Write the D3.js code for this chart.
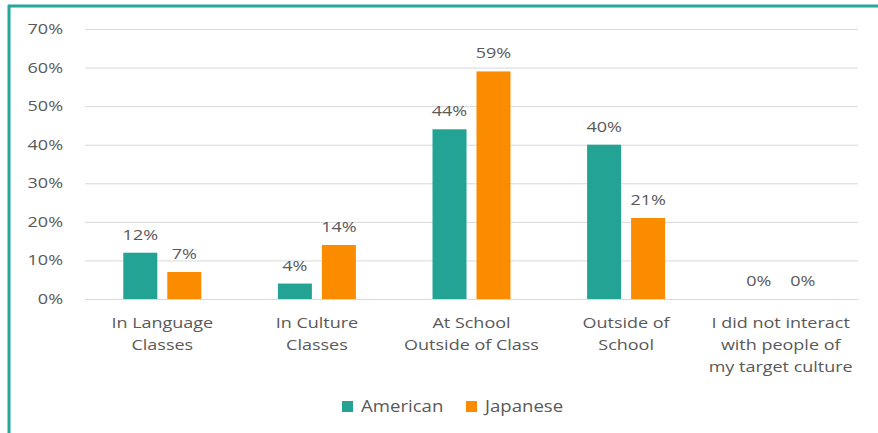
<!DOCTYPE html>
<html>
<head>
<meta charset="utf-8">
<script src="https://cdn.jsdelivr.net/npm/d3@7"></script>
<style>
  html, body { margin: 0; padding: 0; background: #fff; }
  svg { display: block; }
  text { font-family: "Open Sans", "Noto Sans", sans-serif; fill: #595959; }
</style>
</head>
<body>
<svg id="chart" width="878" height="433"></svg>
<script>
// Where students interacted with people of their target culture
const categories = [
  ["In Language", "Classes"],
  ["In Culture", "Classes"],
  ["At School", "Outside of Class"],
  ["Outside of", "School"],
  ["I did not interact", "with people of", "my target culture"]
];
const seriesNames = ["American", "Japanese"];
const american = [12, 4, 44, 40, 0];
const japanese = [7, 14, 59, 21, 0];
const yTicks = [0, 10, 20, 30, 40, 50, 60, 70];
const colors = ["#22a393", "#fb8c00"];

const svg = d3.select("#chart");
const W = 878, H = 433;
const margin = { left: 85, right: 20, top: 29, bottom: 134 };
const STRETCH = 1.2; // wide lettering

// Text drawn in a horizontally widened group
function wideText(parent, x, y, str, size, anchor) {
  const g = parent.append("g").attr("transform", `translate(${x},${y}) scale(${STRETCH},1)`);
  return g.append("text").attr("x", 0).attr("y", 0)
    .attr("font-size", size).attr("text-anchor", anchor || "middle").text(str);
}

// Frame: teal rule along the top and left side
svg.append("line").attr("x1", 8).attr("x2", W).attr("y1", 6).attr("y2", 6)
  .attr("stroke", "#26a69a").attr("stroke-width", 3);
svg.append("line").attr("x1", 9).attr("x2", 9).attr("y1", 5).attr("y2", H)
  .attr("stroke", "#26a69a").attr("stroke-width", 3);

const x0 = d3.scaleBand()
  .domain(d3.range(categories.length))
  .range([margin.left, W - margin.right]);
const x1 = d3.scaleBand()
  .domain(seriesNames)
  .range([x0.bandwidth() / 2 - 39, x0.bandwidth() / 2 + 39])
  .paddingInner(0.227);
const y = d3.scaleLinear().domain([0, 70]).range([H - margin.bottom, margin.top]);

// Gridlines
const yAxis = d3.axisLeft(y).tickValues(yTicks)
  .tickSize(-(W - margin.right - margin.left))
  .tickFormat("");
const gy = svg.append("g").attr("transform", `translate(${margin.left},0)`).call(yAxis);
gy.select(".domain").remove();
gy.selectAll(".tick line").attr("stroke", "#d9d9d9").attr("stroke-width", 1);

// Y labels
const yl = svg.append("g");
yTicks.forEach(t => {
  wideText(yl, 63, y(t) + 5, t + "%", 15, "end");
});

// Bars
const rows = categories.map((c, i) => ({ i, vals: [american[i], japanese[i]] }));
const groups = svg.append("g").selectAll("g").data(rows).join("g")
  .attr("transform", d => `translate(${x0(d.i)},0)`);

groups.selectAll("rect").data(d => d.vals.map((v, k) => ({ k, v }))).join("rect")
  .attr("x", d => x1(seriesNames[d.k]))
  .attr("width", x1.bandwidth())
  .attr("y", d => y(d.v))
  .attr("height", d => y(0) - y(d.v))
  .attr("fill", d => colors[d.k]);

// Value labels
groups.each(function (d) {
  const g = d3.select(this);
  d.vals.forEach((v, k) => {
    wideText(g, x1(seriesNames[k]) + x1.bandwidth() / 2, y(v) - 13, v + "%", 15);
  });
});

// Category labels
const xl = svg.append("g");
categories.forEach((lines, i) => {
  lines.forEach((ln, j) => {
    wideText(xl, x0(i) + x0.bandwidth() / 2, 328 + j * 22, ln, 15);
  });
});

// Legend
const legend = svg.append("g");
const legendX = [342, 466];
seriesNames.forEach((s, k) => {
  legend.append("rect").attr("x", legendX[k]).attr("y", 401).attr("width", 11).attr("height", 11)
    .attr("fill", colors[k]);
  wideText(legend, legendX[k] + 19, 412, s, 15.5, "start");
});
</script>
</body>
</html>
